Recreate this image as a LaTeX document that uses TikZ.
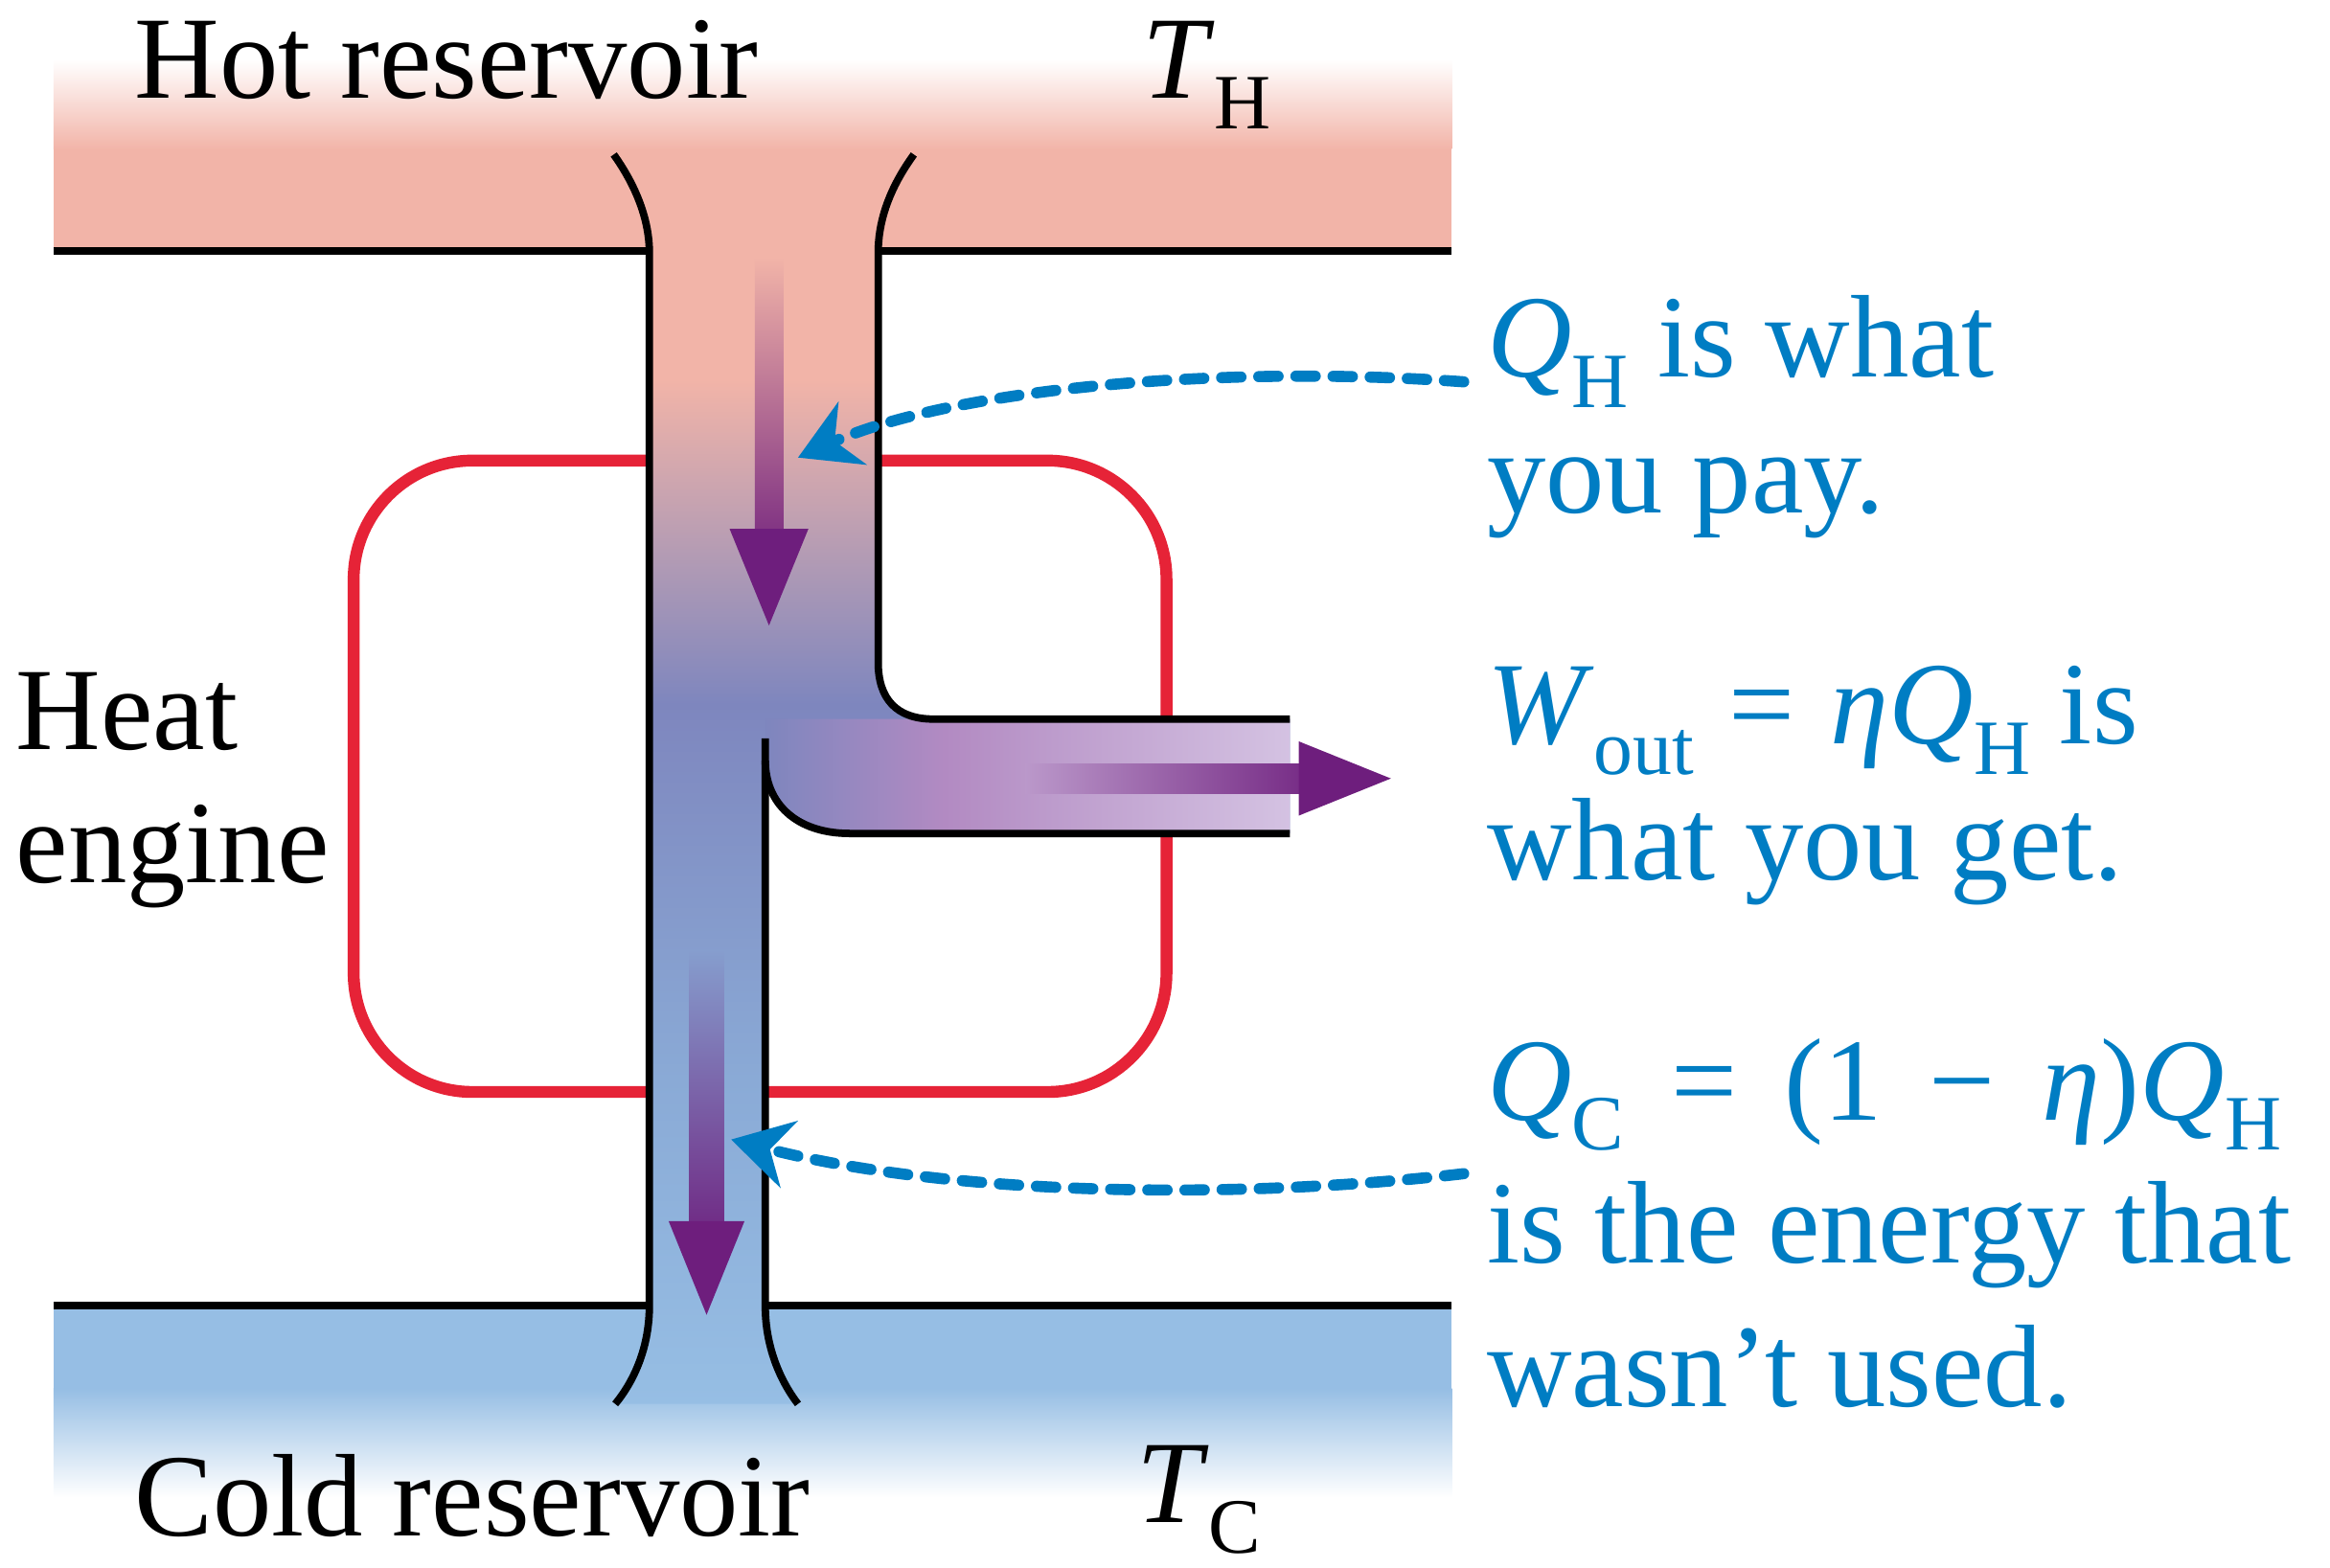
\documentclass[tikz,border=0pt]{standalone}
\usepackage{fontspec}
\setmainfont{Liberation Serif}
\usetikzlibrary{arrows.meta,positioning}

\definecolor{hotpink}{RGB}{242,180,168}
\definecolor{coldblue}{RGB}{150,190,228}
\definecolor{engblue}{RGB}{126,134,190}
\definecolor{pipelow}{RGB}{138,170,214}
\definecolor{orchid}{RGB}{178,138,194}
\definecolor{lavender}{RGB}{212,194,226}
\definecolor{flowpurple}{RGB}{110,30,125}
\definecolor{engred}{RGB}{230,35,55}
\definecolor{notecolor}{RGB}{0,125,195}

\pgfdeclareverticalshading{pipeflow}{100bp}{color(0bp)=(coldblue); color(25bp)=(coldblue); color(38bp)=(pipelow); color(53bp)=(engblue); color(66bp)=(hotpink); color(100bp)=(hotpink)}
\pgfdeclarehorizontalshading{branchflow}{100bp}{color(0bp)=(engblue); color(25bp)=(engblue); color(42bp)=(orchid); color(75bp)=(lavender); color(100bp)=(lavender)}

\newcommand{\lowsub}[1]{\raisebox{-0.26em}{\fontsize{15}{15}\selectfont #1}}
\newcommand{\eqsp}{\hspace{0.3em}}
\newcommand{\opsp}{\hspace{0.4em}}

\begin{document}
\begin{tikzpicture}[
		x=0.1mm, y=-0.1mm,
		lbl/.style={
			font=\fontsize{22.5}{25.5}\selectfont,
			inner sep=0pt,
			align=left,
			anchor=base west
		},
		note/.style={lbl, text=notecolor, font=\fontsize{22.5}{26}\selectfont},
		wall/.style={line width=0.5mm, black},
		dashlink/.style={
			notecolor, line width=0.75mm, line cap=round,
			dash pattern=on 1.3mm off 1.2mm,
			-{Stealth[length=4mm,width=4.6mm,inset=1.3mm]}
		}
		]
		
		\useasboundingbox (0,0) rectangle (1568,1055);
		
		% reservoirs
		\fill[hotpink] (36,100) rectangle (977,169);
		\shade[top color=white, bottom color=hotpink] (36,40) rectangle (977,100.5);
		\fill[coldblue] (36,879) rectangle (977,935);
		\shade[top color=coldblue, bottom color=white] (36,934.5) rectangle (977,1008);
		
		% engine
		\draw[engred, line width=0.8mm, rounded corners=8mm] (238,310) rectangle (785,735);
		
		% pipe
		\shade[shading=pipeflow] (413,104) .. controls (428,125) and (437,148) .. (437,170)
			-- (437,879) .. controls (437,905) and (428,928) .. (414,945)
			-- (537,945) .. controls (524,928) and (515,905) .. (515,879)
			-- (515,512) .. controls (515,540) and (535,561) .. (572,561)
			-- (868,561) -- (868,484) -- (628,484)
			.. controls (603,484) and (591,470) .. (591,446)
			-- (591,170) .. controls (591,148) and (599,126) .. (615,104) -- cycle;
		\shade[shading=branchflow] (515,484) -- (868,484) -- (868,561) -- (572,561)
			.. controls (535,561) and (515,540) .. (515,512) -- cycle;
		
		% flow arrows
		\shade[top color=hotpink, middle color=flowpurple!50!hotpink, bottom color=flowpurple!85!hotpink]
			(508,173) rectangle (527,357);
		\fill[flowpurple] (491,356) -- (517.5,421) -- (544,356) -- cycle;
		\shade[top color=engblue!35!pipelow, middle color=flowpurple!40!engblue, bottom color=flowpurple!85!engblue]
			(464,640) rectangle (487,823);
		\fill[flowpurple] (450,822) -- (475.5,885) -- (501,822) -- cycle;
		\shade[left color=orchid!75!lavender, middle color=flowpurple!40!orchid, right color=flowpurple!85!orchid]
			(690,514) rectangle (875,534);
		\fill[flowpurple] (874,499) -- (936,524) -- (874,549) -- cycle;
		
		% walls
		\draw[wall] (36,169) -- (437,169);
		\draw[wall] (591,169) -- (977,169);
		\draw[wall] (36,879) -- (437,879);
		\draw[wall] (515,879) -- (977,879);
		\draw[wall] (413,104) .. controls (428,125) and (437,148) .. (437,170)
			-- (437,879) .. controls (437,905) and (428,928) .. (414,945);
		\draw[wall] (615,104) .. controls (599,126) and (591,148) .. (591,170)
			-- (591,446) .. controls (591,470) and (603,484) .. (628,484) -- (868,484);
		\draw[wall] (515,497) -- (515,879) .. controls (515,905) and (524,928) .. (537,945);
		\draw[wall] (515,512) .. controls (515,540) and (535,561) .. (572,561) -- (868,561);
		
		% labels
		\node[lbl] (hot) at (90,66) {Hot reservoir};
		\node[lbl] (th) at (768,66) {\textit{T}\lowsub{H}};
		\node[lbl] (engtxt) at (10,594) {Heat\\engine};
		\node[lbl] (cold) at (90,1034) {Cold reservoir};
		\node[lbl] (tc) at (764,1025) {\textit{T}\lowsub{C}};
		
		\node[note] (paid) at (1000,345) {\textit{Q}\lowsub{H} is what\\you pay.};
		\node[note] (work) at (1000,592)
		{\textit{W}\lowsub{out}\eqsp=\eqsp\textit{η}\textit{Q}\lowsub{H} is\\what you get.};
		\node[note, font=\fontsize{22.5}{27.5}\selectfont] (waste) at (1000,947)
		{\textit{Q}\lowsub{C}\opsp=\opsp(1\opsp−\opsp\textit{η})\textit{Q}\lowsub{H}\\is the energy that\\wasn’t used.};
		
		% pointers
		\coordinate (payfrom) at (985,257);
		\coordinate (payto) at (537,308);
		\draw[dashlink] (payfrom) .. controls (820,245) and (640,262) .. (payto);
		\coordinate (wastefrom) at (985,790);
		\coordinate (wasteto) at (492,767);
		\draw[dashlink] (wastefrom) .. controls (830,808) and (640,805) .. (wasteto);
		
	\end{tikzpicture}
\end{document}
